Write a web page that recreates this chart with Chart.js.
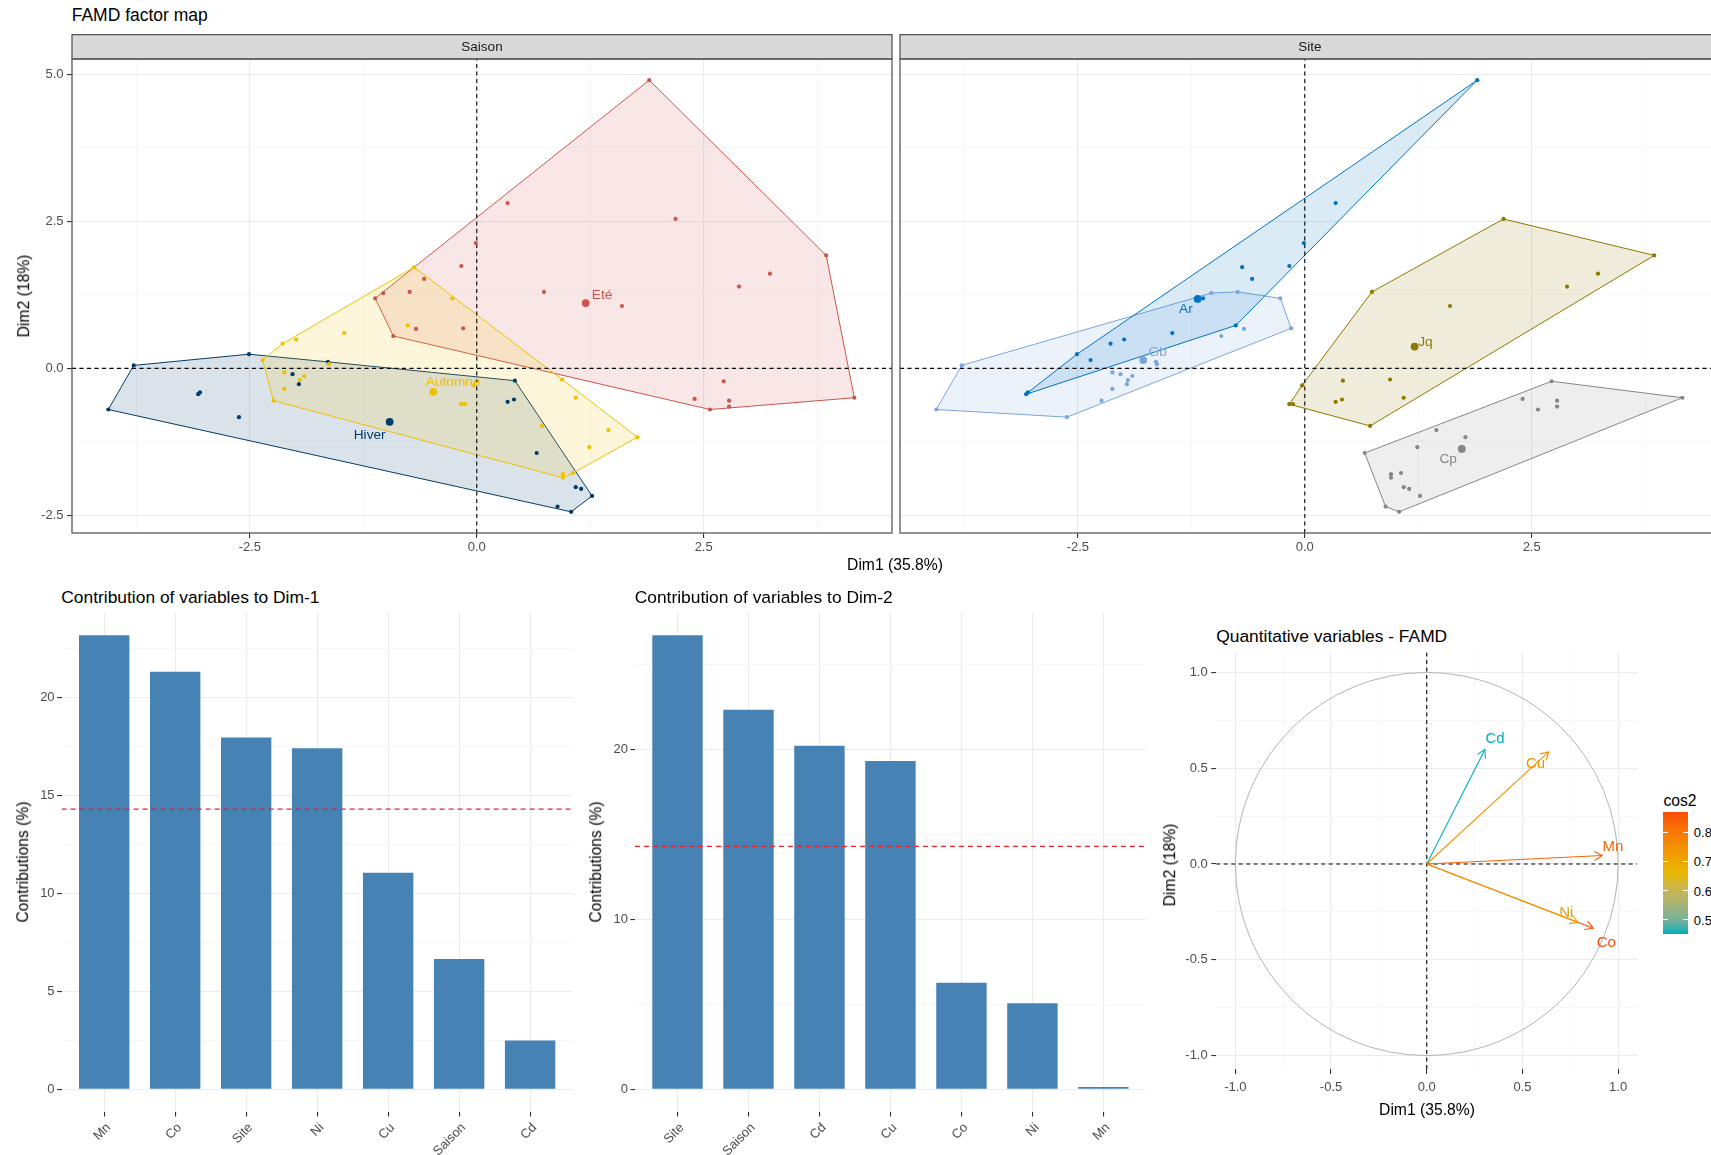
<!DOCTYPE html>
<html lang="fr">
<head>
<meta charset="utf-8">
<title>FAMD</title>
<script src="https://cdn.jsdelivr.net/npm/chart.js@4.4.1/dist/chart.umd.min.js"></script>
<style>
  html, body { margin: 0; padding: 0; background: #ffffff; }
  body { position: relative; width: 1711px; height: 1155px; overflow: hidden;
         font-family: 'Liberation Sans', Arial, Helvetica, sans-serif; }
  canvas { position: absolute; }
  .txt { position: absolute; white-space: nowrap; color: #000000; }
</style>
</head>
<body>
<script>
const FONT = "'Liberation Sans', Arial, Helvetica, sans-serif";

// ---- Individuals: coordinates on Dim1 / Dim2 and their two qualitative variables ----
const dim1 = [
  1.90, 3.85, 4.16, 2.57, 2.78, 2.78, 2.72, 2.40, 2.19, 0.34, -0.01, -0.17, 0.74, 1.60, 2.89, 3.23, -1.12, -1.03, -0.74, -0.58, -0.67, -0.15, -0.92,
  -0.69, -0.76, -1.46, -1.99, -2.14, -0.27, -2.36, -2.24, -2.12, -2.12, -1.90, -1.95, -1.63, -0.03, -0.17, -0.13, 0.94, 1.09, 1.45, 1.77, 1.24, 0.72, 0.95, 0.95, 1.06,
  -3.78, -4.06, -2.51, -1.64, -3.07, -3.05, -2.62, -2.03, -1.96, 0.42, 0.34, 0.41, 0.66, 1.09, 1.15, 1.27, 1.04, 0.89
];
const dim2 = [
  4.90, 1.92, -0.50, -0.70, -0.65, -0.55, -0.22, -0.52, 2.54, 2.81, 2.13, 1.74, 1.30, 1.06, 1.39, 1.61, 1.19, 1.28, 1.30, 1.52, 0.67, 0.68, 0.55,
  1.72, 0.73, 0.60, 0.49, 0.42, 1.19, 0.14, -0.55, -0.07, -0.35, -0.13, -0.20, 0.07, -0.29, -0.61, -0.61, -0.19, -0.50, -1.05, -1.17, -1.34, -0.98, -1.80, -1.86, -1.78,
  0.05, -0.70, 0.24, 0.11, -0.44, -0.41, -0.83, -0.10, -0.27, -0.21, -0.57, -0.53, -1.44, -2.02, -2.05, -2.17, -2.44, -2.35
];
const saison = [
  'Eté','Eté','Eté','Eté','Eté','Eté','Eté','Eté','Eté','Eté','Eté','Eté','Eté','Eté','Eté','Eté','Eté','Eté','Eté','Eté','Eté','Eté','Eté',
  'Automne','Automne','Automne','Automne','Automne','Automne','Automne','Automne','Automne','Automne','Automne','Automne','Automne',
  'Automne','Automne','Automne','Automne','Automne','Automne','Automne','Automne','Automne','Automne','Automne','Automne',
  'Hiver','Hiver','Hiver','Hiver','Hiver','Hiver','Hiver','Hiver','Hiver','Hiver','Hiver','Hiver','Hiver','Hiver','Hiver','Hiver','Hiver','Hiver'
];
const site = [
  'Ar','Jq','Cp','Cp','Cp','Cp','Cp','Cp','Jq','Ar','Ar','Ar','Jq','Jq','Jq','Jq','Ar','Gb','Gb','Ar','Gb','Gb','Gb',
  'Ar','Ar','Ar','Ar','Ar','Gb','Ar','Gb','Gb','Gb','Gb','Gb','Gb','Jq','Jq','Jq','Jq','Jq','Cp','Cp','Cp','Jq','Cp','Cp','Cp',
  'Gb','Gb','Ar','Gb','Ar','Ar','Gb','Gb','Gb','Jq','Jq','Jq','Cp','Cp','Cp','Cp','Cp','Cp'
];

const saisonLevels = ['Automne', 'Eté', 'Hiver'];
const siteLevels = ['Ar', 'Cp', 'Gb', 'Jq'];

// group barycentres
const saisonMeanDim1 = [-0.48, 1.20, -0.96];
const saisonMeanDim2 = [-0.40, 1.11, -0.91];
const siteMeanDim1 = [-1.18, 1.73, -1.78, 1.21];
const siteMeanDim2 = [1.18, -1.37, 0.14, 0.37];

// anchor of each group name (data units)
const saisonLabelDim1 = [-0.26, 1.38, -1.18];
const saisonLabelDim2 = [-0.23, 1.24, -1.13];
const siteLabelDim1 = [-1.31, 1.58, -1.62, 1.33];
const siteLabelDim2 = [1.01, -1.54, 0.27, 0.45];

// ---- Contributions of variables (%) ----
const contribDim1Vars = ['Mn', 'Co', 'Site', 'Ni', 'Cu', 'Saison', 'Cd'];
const contribDim1 = [23.16, 21.30, 17.94, 17.39, 11.04, 6.65, 2.49];
const contribDim2Vars = ['Site', 'Saison', 'Cd', 'Cu', 'Co', 'Ni', 'Mn'];
const contribDim2 = [26.71, 22.33, 20.21, 19.31, 6.27, 5.06, 0.13];
const expectedContrib = 14.29;

// ---- Quantitative variables (correlation circle) ----
const quantVars = ['Cd', 'Cu', 'Mn', 'Ni', 'Co'];
const quantDim1 = [0.304, 0.637, 0.917, 0.790, 0.870];
const quantDim2 = [0.598, 0.585, 0.044, -0.304, -0.335];
const quantCos2 = [0.45, 0.75, 0.84, 0.72, 0.87];
const quantLabelDim1 = [0.357, 0.568, 0.972, 0.729, 0.938];
const quantLabelDim2 = [0.654, 0.521, 0.092, -0.253, -0.411];

// ---- Tick values ----
const mapTicksMajor = [-2.5, 0, 2.5, 5];
const mapTicksMinor = [-3.75, -1.25, 1.25, 3.75];
const contrib1TicksMajor = [0, 5, 10, 15, 20];
const contrib1TicksMinor = [2.5, 7.5, 12.5, 17.5, 22.5];
const contrib2TicksMajor = [0, 10, 20];
const contrib2TicksMinor = [5, 15, 25];
const circleTicksMajor = [-1, -0.5, 0, 0.5, 1];
const circleTicksMinor = [-0.75, -0.25, 0.25, 0.75];
const cos2LegendTicks = [0.5, 0.6, 0.7, 0.8];

// ---- Styling ----
const palette = { Ar: '#0073C2', Automne: '#EFC000', Cp: '#868686', 'Eté': '#CD534C',
                  Gb: '#7AA6DC', Hiver: '#003C67', Jq: '#8F7700' };
const cos2Stops = ['#00AFBB', '#E7B800', '#FC4E07'];
const MAP_X = [-4.46, 4.575];
const MAP_Y = [-2.80, 5.26];

Chart.defaults.font.family = FONT;
Chart.defaults.font.size = 13;
Chart.defaults.color = '#4D4D4D';
Chart.defaults.animation = false;

function hexToRgb(hex) { const n = parseInt(hex.slice(1), 16); return [n >> 16 & 255, n >> 8 & 255, n & 255]; }
function hexToRgba(hex, a) { const c = hexToRgb(hex); return `rgba(${c[0]},${c[1]},${c[2]},${a})`; }

// colour gradient interpolated in CIE Lab space
function rgbToLab(rgb) {
  const f = c => { c /= 255; return c <= 0.04045 ? c / 12.92 : Math.pow((c + 0.055) / 1.055, 2.4); };
  const R = f(rgb[0]), G = f(rgb[1]), B = f(rgb[2]);
  const X = (0.4124 * R + 0.3576 * G + 0.1805 * B) / 0.95047;
  const Y = (0.2126 * R + 0.7152 * G + 0.0722 * B);
  const Z = (0.0193 * R + 0.1192 * G + 0.9505 * B) / 1.08883;
  const g = t => t > 0.008856 ? Math.cbrt(t) : (7.787 * t + 16 / 116);
  const fx = g(X), fy = g(Y), fz = g(Z);
  return [116 * fy - 16, 500 * (fx - fy), 200 * (fy - fz)];
}
function labToRgb(lab) {
  const fy = (lab[0] + 16) / 116, fx = fy + lab[1] / 500, fz = fy - lab[2] / 200;
  const inv = t => (t * t * t > 0.008856) ? t * t * t : (t - 16 / 116) / 7.787;
  const X = inv(fx) * 0.95047, Y = inv(fy), Z = inv(fz) * 1.08883;
  const R = 3.2406 * X - 1.5372 * Y - 0.4986 * Z;
  const G = -0.9689 * X + 1.8758 * Y + 0.0415 * Z;
  const B = 0.0557 * X - 0.2040 * Y + 1.0570 * Z;
  const f = c => { c = c <= 0.0031308 ? 12.92 * c : 1.055 * Math.pow(c, 1 / 2.4) - 0.055; return Math.round(Math.max(0, Math.min(1, c)) * 255); };
  return [f(R), f(G), f(B)];
}
const COS2_LO = Math.min(...quantCos2), COS2_HI = Math.max(...quantCos2);
function cos2Color(v) {
  let t = (v - COS2_LO) / (COS2_HI - COS2_LO); t = Math.max(0, Math.min(1, t));
  const seg = t < 0.5 ? 0 : 1, u = seg === 0 ? t / 0.5 : (t - 0.5) / 0.5;
  const a = rgbToLab(hexToRgb(cos2Stops[seg])), b = rgbToLab(hexToRgb(cos2Stops[seg + 1]));
  const c = labToRgb(a.map((x, i) => x + (b[i] - x) * u));
  return `rgb(${c[0]},${c[1]},${c[2]})`;
}

// convex hull (monotone chain), closed
function convexHull(pts) {
  const p = pts.slice().sort((a, b) => a.x - b.x || a.y - b.y);
  const cross = (o, a, b) => (a.x - o.x) * (b.y - o.y) - (a.y - o.y) * (b.x - o.x);
  const lower = [], upper = [];
  for (const q of p) { while (lower.length >= 2 && cross(lower[lower.length - 2], lower[lower.length - 1], q) <= 0) lower.pop(); lower.push(q); }
  for (let i = p.length - 1; i >= 0; i--) { const q = p[i]; while (upper.length >= 2 && cross(upper[upper.length - 2], upper[upper.length - 1], q) <= 0) upper.pop(); upper.push(q); }
  upper.pop(); lower.pop();
  const h = lower.concat(upper); h.push(h[0]);
  return h;
}

function makeCanvas(left, top, w, h) {
  const c = document.createElement('canvas');
  c.width = w; c.height = h;
  c.style.left = left + 'px'; c.style.top = top + 'px';
  c.style.width = w + 'px'; c.style.height = h + 'px';
  document.body.appendChild(c);
  return c;
}

function addText(txt, x, y, size, opt = {}) {
  const d = document.createElement('div');
  d.className = 'txt'; d.textContent = txt;
  d.style.fontSize = size + 'px'; d.style.lineHeight = size + 'px';
  d.style.left = x + 'px'; d.style.top = y + 'px';
  const tr = [opt.center ? 'translate(-50%,-50%)' : 'translateY(-50%)'];
  if (opt.rotate) tr.push('rotate(' + opt.rotate + 'deg)');
  d.style.transform = tr.join(' ');
  if (opt.color) d.style.color = opt.color;
  document.body.appendChild(d);
  return d;
}

// fixed axis thickness, no extra room for overflowing labels
function fixAxis(size) {
  return s => {
    if (s.isHorizontal()) { s.height = size; s.paddingLeft = 0; s.paddingRight = 0; }
    else { s.width = size; s.paddingTop = 0; s.paddingBottom = 0; }
  };
}

// linear scale with major/minor grid lines
function gridScale(min, max, major, minor, o) {
  const isMajor = v => major.some(m => Math.abs(m - v) < 1e-9);
  const all = major.concat(minor).filter(v => v >= min - 1e-9 && v <= max + 1e-9).sort((a, b) => a - b);
  return {
    type: 'linear', min, max, offset: false,
    afterBuildTicks: s => { s.ticks = all.map(v => ({ value: v })); },
    afterFit: fixAxis(o.size),
    ticks: {
      display: o.labels !== false, autoSkip: false, maxRotation: 0, minRotation: 0,
      padding: o.padding, color: '#4D4D4D', font: { size: 13 },
      callback: v => isMajor(v) ? o.fmt(v) : ''
    },
    grid: {
      offset: false,
      color: c => (c.tick && isMajor(c.tick.value)) ? '#EBEBEB' : '#F2F2F2',
      lineWidth: c => (c.tick && isMajor(c.tick.value)) ? 1.1 : 0.6,
      drawTicks: o.drawTicks !== false, tickLength: o.tickLength || 5,
      tickColor: c => (c.tick && isMajor(c.tick.value)) ? '#333333' : 'rgba(0,0,0,0)',
      tickWidth: 1.1
    },
    border: { display: false }
  };
}

function refLine(data, color, dash, order) {
  return { type: 'line', data, borderColor: color, borderWidth: 1.1, borderDash: dash,
           pointRadius: 0, fill: false, tension: 0, order };
}

// facet strip on top of the panel and the panel frame
function stripPlugin(text) {
  return {
    id: 'strip',
    afterDraw(chart) {
      const { ctx, chartArea: a } = chart;
      ctx.save();
      ctx.fillStyle = '#D9D9D9';
      ctx.fillRect(a.left, 0.6, a.right - a.left, a.top - 0.6);
      ctx.strokeStyle = '#595959'; ctx.lineWidth = 1.3;
      ctx.strokeRect(a.left, 0.65, a.right - a.left, a.top - 0.65);
      ctx.strokeRect(a.left, a.top, a.right - a.left, a.bottom - a.top);
      ctx.fillStyle = '#1A1A1A';
      ctx.font = '13.5px ' + FONT; ctx.textAlign = 'center'; ctx.textBaseline = 'middle';
      ctx.fillText(text, (a.left + a.right) / 2, a.top / 2 + 1);
      ctx.restore();
    }
  };
}

// names written at data positions
function textMarks(items, size) {
  return {
    id: 'textMarks',
    afterDatasetsDraw(chart) {
      const { ctx, scales: { x, y } } = chart;
      ctx.save();
      ctx.font = size + 'px ' + FONT; ctx.textAlign = 'center'; ctx.textBaseline = 'middle';
      items.forEach(it => {
        ctx.fillStyle = it.color;
        ctx.fillText(it.text, x.getPixelForValue(it.x), y.getPixelForValue(it.y));
      });
      ctx.restore();
    }
  };
}

function factorMap(canvas, groupOf, levels, meanX, meanY, labX, labY, strip, pad, yAxis) {
  const datasets = [];
  const labels = [];
  levels.forEach((lv, k) => {
    const col = palette[lv];
    const pts = [];
    dim1.forEach((v, i) => { if (groupOf[i] === lv) pts.push({ x: v, y: dim2[i] }); });
    datasets.push({ type: 'line', data: convexHull(pts), borderColor: col, borderWidth: 1,
                    backgroundColor: hexToRgba(col, 0.14), fill: 'shape', pointRadius: 0, tension: 0, order: 40 });
    datasets.push({ type: 'scatter', data: pts, backgroundColor: col, borderColor: col,
                    pointRadius: 2.1, pointBorderWidth: 0, order: 10 });
    datasets.push({ type: 'scatter', data: [{ x: meanX[k], y: meanY[k] }], backgroundColor: col, borderColor: col,
                    pointRadius: 3.9, pointBorderWidth: 0, order: 5 });
    labels.push({ text: lv, x: labX[k], y: labY[k], color: col });
  });
  datasets.push(refLine([{ x: 0, y: MAP_Y[0] }, { x: 0, y: MAP_Y[1] }], '#000000', [4, 3.5], 20));
  datasets.push(refLine([{ x: MAP_X[0], y: 0 }, { x: MAP_X[1], y: 0 }], '#000000', [4, 3.5], 20));

  const fmt = v => v.toFixed(1);
  return new Chart(canvas, {
    type: 'scatter',
    data: { datasets },
    options: {
      responsive: false, animation: false, events: [],
      layout: { padding: pad, autoPadding: false },
      plugins: { legend: { display: false }, tooltip: { enabled: false } },
      scales: {
        x: gridScale(MAP_X[0], MAP_X[1], mapTicksMajor, mapTicksMinor, { size: 26, padding: 2, fmt }),
        y: gridScale(MAP_Y[0], MAP_Y[1], mapTicksMajor, mapTicksMinor,
                     { size: yAxis.width, padding: 3.5, fmt, labels: yAxis.labels, drawTicks: yAxis.labels })
      }
    },
    plugins: [stripPlugin(strip), textMarks(labels, 13.7)]
  });
}

function contribChart(canvas, vars, values, major, minor, yAxisW, pad) {
  const maxV = Math.max(...values);
  const yMin = -0.05 * maxV, yMax = 1.05 * maxV;
  const xMin = -0.6, xMax = vars.length - 0.4;
  const yScale = gridScale(yMin, yMax, major, minor, { size: yAxisW, padding: 2.5, tickLength: 4.5, fmt: v => String(v) });
  const xScale = {
    type: 'linear', min: xMin, max: xMax, offset: false,
    afterBuildTicks: s => { s.ticks = vars.map((_, i) => ({ value: i })); },
    afterFit: fixAxis(43),
    ticks: { autoSkip: false, minRotation: 45, maxRotation: 45, padding: 3.5, labelOffset: 4.5,
             color: '#4D4D4D', font: { size: 13 }, callback: v => vars[Math.round(v)] },
    grid: { offset: false, color: '#EBEBEB', lineWidth: 1.1, tickLength: 4.5, tickColor: '#333333', tickWidth: 1.1 },
    border: { display: false }
  };
  return new Chart(canvas, {
    type: 'bar',
    data: {
      datasets: [
        refLine([{ x: xMin, y: expectedContrib }, { x: xMax, y: expectedContrib }], '#E8212B', [5, 4], 0),
        { type: 'bar', data: values.map((v, i) => ({ x: i, y: v })), backgroundColor: '#4682B4',
          borderWidth: 0, barPercentage: 0.71, categoryPercentage: 1, order: 1 }
      ]
    },
    options: {
      responsive: false, animation: false, events: [],
      layout: { padding: pad, autoPadding: false },
      plugins: { legend: { display: false }, tooltip: { enabled: false } },
      scales: { x: xScale, y: yScale }
    }
  });
}

// ================= Factor map: two facets =================
addText('FAMD factor map', 71.7, 16, 17.5);
factorMap(makeCanvas(0, 34, 900, 525), saison, saisonLevels, saisonMeanDim1, saisonMeanDim2,
          saisonLabelDim1, saisonLabelDim2, 'Saison',
          { left: 0, right: 8, top: 25, bottom: 0 }, { width: 72, labels: true });
factorMap(makeCanvas(890, 34, 840, 525), site, siteLevels, siteMeanDim1, siteMeanDim2,
          siteLabelDim1, siteLabelDim2, 'Site',
          { left: 10, right: 10, top: 25, bottom: 0 }, { width: 0, labels: false });
addText('Dim1 (35.8%)', 895, 565, 15.7, { center: true });
addText('Dim2 (18%)', 24, 296, 15.7, { center: true, rotate: -90 });

// ================= Contribution bar charts =================
addText('Contribution of variables to Dim-1', 61.3, 598, 17.4);
contribChart(makeCanvas(0, 612, 575, 543), contribDim1Vars, contribDim1,
             contrib1TicksMajor, contrib1TicksMinor, 61.6, { left: 0, right: 2.3, top: 0.5, bottom: 0 });
addText('Contributions (%)', 22.6, 862, 15.7, { center: true, rotate: -90 });

addText('Contribution of variables to Dim-2', 634.7, 598, 17.4);
contribChart(makeCanvas(575, 612, 580, 543), contribDim2Vars, contribDim2,
             contrib2TicksMajor, contrib2TicksMinor, 59.9, { left: 0, right: 9, top: 0.5, bottom: 0 });
addText('Contributions (%)', 595.9, 862, 15.7, { center: true, rotate: -90 });

// ================= Correlation circle of quantitative variables =================
addText('Quantitative variables - FAMD', 1216.2, 636.5, 17.4);
(function () {
  const CX = [-1.1, 1.1], CY = [-1.07, 1.105];
  const fmt = v => v.toFixed(1);
  const datasets = [
    refLine([{ x: 0, y: CY[0] }, { x: 0, y: CY[1] }], '#000000', [4, 3.5], 20),
    refLine([{ x: CX[0], y: 0 }, { x: CX[1], y: 0 }], '#000000', [4, 3.5], 20)
  ];
  const labels = [];
  quantVars.forEach((v, i) => {
    const col = cos2Color(quantCos2[i]);
    datasets.push({ type: 'line', data: [{ x: 0, y: 0 }, { x: quantDim1[i], y: quantDim2[i] }],
                    borderColor: col, borderWidth: 1.1, pointRadius: 0, fill: false, order: 5 });
    labels.push({ text: v, x: quantLabelDim1[i], y: quantLabelDim2[i], color: col });
  });
  const circle = {
    id: 'unitCircle',
    beforeDatasetsDraw(chart) {
      const { ctx, scales: { x, y } } = chart;
      const cx = x.getPixelForValue(0), cy = y.getPixelForValue(0);
      const rx = x.getPixelForValue(1) - cx, ry = cy - y.getPixelForValue(1);
      ctx.save(); ctx.strokeStyle = '#B3B3B3'; ctx.lineWidth = 1;
      ctx.beginPath(); ctx.ellipse(cx, cy, rx, ry, 0, 0, Math.PI * 2); ctx.stroke(); ctx.restore();
    }
  };
  const arrowHeads = {
    id: 'arrowHeads',
    afterDatasetsDraw(chart) {
      const { ctx, scales: { x, y } } = chart;
      ctx.save(); ctx.lineWidth = 1.1;
      quantVars.forEach((v, i) => {
        const sx = x.getPixelForValue(0), sy = y.getPixelForValue(0);
        const ex = x.getPixelForValue(quantDim1[i]), ey = y.getPixelForValue(quantDim2[i]);
        const ang = Math.atan2(ey - sy, ex - sx), L = 9, w = Math.PI / 6;
        ctx.strokeStyle = cos2Color(quantCos2[i]);
        ctx.beginPath();
        ctx.moveTo(ex - L * Math.cos(ang - w), ey - L * Math.sin(ang - w));
        ctx.lineTo(ex, ey);
        ctx.lineTo(ex - L * Math.cos(ang + w), ey - L * Math.sin(ang + w));
        ctx.stroke();
      });
      ctx.restore();
    }
  };
  new Chart(makeCanvas(1150, 652, 500, 490), {
    type: 'scatter',
    data: { datasets },
    options: {
      responsive: false, animation: false, events: [],
      layout: { padding: { left: 0, right: 12.7, top: 0.3, bottom: 0 }, autoPadding: false },
      plugins: { legend: { display: false }, tooltip: { enabled: false } },
      scales: {
        x: gridScale(CX[0], CX[1], circleTicksMajor, circleTicksMinor, { size: 73, padding: 6, fmt }),
        y: gridScale(CY[0], CY[1], circleTicksMajor, circleTicksMinor, { size: 66.2, padding: 3.5, fmt })
      }
    },
    plugins: [circle, arrowHeads, textMarks(labels, 15)]
  });
})();
addText('Dim1 (35.8%)', 1427, 1109.7, 15.7, { center: true });
addText('Dim2 (18%)', 1169.7, 864.5, 15.7, { center: true, rotate: -90 });

// cos2 colour bar
(function () {
  const barLeft = 1663.4, barBottom = 934.5, barH = 122.8, barW = 24.4;
  addText('cos2', 1663.4, 801.1, 15.7);
  const stops = [];
  for (let k = 0; k <= 10; k++) {
    const v = COS2_LO + (COS2_HI - COS2_LO) * k / 10;
    stops.push(cos2Color(v) + ' ' + (k * 10) + '%');
  }
  const bar = document.createElement('div');
  bar.style.cssText = `position:absolute;left:${barLeft}px;top:${barBottom - barH}px;width:${barW}px;height:${barH}px;` +
    `background:linear-gradient(to top, ${stops.join(', ')});`;
  document.body.appendChild(bar);
  cos2LegendTicks.forEach(v => {
    const yy = barBottom - (v - COS2_LO) / (COS2_HI - COS2_LO) * barH;
    [0, barW - 5].forEach(dx => {
      const t = document.createElement('div');
      t.style.cssText = `position:absolute;left:${barLeft + dx}px;top:${yy - 0.5}px;width:5px;height:1px;background:#ffffff;`;
      document.body.appendChild(t);
    });
    addText(v.toFixed(1), 1693.8, yy, 13, { color: '#000000' });
  });
})();
</script>
</body>
</html>
